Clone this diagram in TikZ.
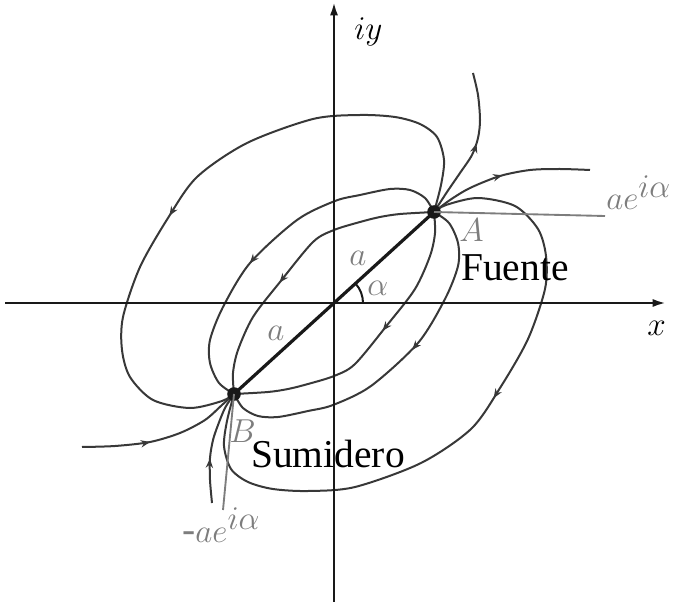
\documentclass[tikz,border=0pt]{standalone}
\usepackage{fontspec}
\setmainfont{Liberation Serif}
\usetikzlibrary{arrows.meta,decorations.markings,calc}
\definecolor{curvec}{HTML}{383838}
\definecolor{lblgray}{HTML}{7D7D7D}
\DeclareMathSizes{29.6}{31}{25.5}{19}
\begin{document}
\begin{tikzpicture}[x=0.75pt,y=-0.75pt,
  flow/.style={line width=1.5pt, draw=curvec, line join=round},
  fwd/.style={postaction={decorate}, decoration={markings, mark=at position #1 with {\arrow{Stealth[length=7pt,width=5.5pt]}}}},
  bwd/.style={postaction={decorate}, decoration={markings, mark=at position #1 with {\arrow{Stealth[length=7pt,width=5.5pt,reversed]}}}},
  axis/.style={line width=1.8pt, draw=black!90, -{Latex[length=10pt,width=6pt]}},
  lead/.style={line width=1.4pt, draw=lblgray},
  dot/.style={circle, fill=black!90, minimum size=10.2pt, inner sep=0pt},
  lbl/.style={font=\fontsize{29.6}{34}\selectfont, inner sep=0pt, anchor=base west},
  glbl/.style={lbl, text=lblgray}
]
\useasboundingbox (0,0) rectangle (681,602);
\coordinate (O) at (334,303);
\coordinate (xl) at (5,303);
\coordinate (xr) at (666,303);
\coordinate (yb) at (334,602);
\coordinate (yt) at (334,2);
\coordinate (aL) at (605,216);
\coordinate (bL) at (223,510);

% left loops (source A -> sink B)
\draw[flow, fwd=0.57] plot[smooth] coordinates {(434,212) (441,185) (444,160) (437,137) (420,124) (395,117) (360,115) (313,119) (247,143) (197,177) (168,218) (140,267) (123,317) (122,350) (130,377) (153,400) (190,408) (222,401) (234,394)};
\draw[flow, fwd=0.59] plot[smooth] coordinates {(434,212) (425,198) (410,190) (390,189) (360,195) (335,201) (297,220) (250,263) (223,307) (210,340) (210,363) (219,383) (234,394)};
\draw[flow, fwd=0.59] plot[smooth] coordinates {(434,212) (400,214) (380,217) (360,222) (334,230) (313,242) (280,282) (253,317) (238,350) (233,373) (234,394)};
% right loops (point reflection through O)
\begin{scope}[rotate around={180:(O)}]
\draw[flow, bwd=0.57] plot[smooth] coordinates {(434,212) (441,185) (444,160) (437,137) (420,124) (395,117) (360,115) (313,119) (247,143) (197,177) (168,218) (140,267) (123,317) (122,350) (130,377) (153,400) (190,408) (222,401) (234,394)};
\draw[flow, bwd=0.59] plot[smooth] coordinates {(434,212) (425,198) (410,190) (390,189) (360,195) (335,201) (297,220) (250,263) (223,307) (210,340) (210,363) (219,383) (234,394)};
\draw[flow, bwd=0.59] plot[smooth] coordinates {(434,212) (400,214) (380,217) (360,222) (334,230) (313,242) (280,282) (253,317) (238,350) (233,373) (234,394)};
\end{scope}
% open streamlines
\draw[flow, fwd=0.53] plot[smooth] coordinates {(434,212) (447,192) (460,173) (472,155) (478,138) (480,120) (478,95) (473,73)};
\draw[flow, fwd=0.47] plot[smooth] coordinates {(434,212) (450,200) (470,188) (500,176) (530,170) (560,169) (590,170)};
\draw[flow, fwd=0.39] plot[smooth] coordinates {(212,503) (210,480) (210,458) (213,440) (218,425) (225,408) (234,394)};
\draw[flow, fwd=0.41] plot[smooth] coordinates {(82,447) (115,446) (150,442) (180,433) (205,420) (222,405) (234,394)};

% axes
\draw[axis] (xl) -- (xr);
\draw[axis] (yb) -- (yt);

% points and segment
\node[dot] (A) at (434,212) {};
\node[dot] (B) at (234,394) {};
\draw[line width=2.4pt, black!90] (O) -- (A.center);
\draw[line width=2.4pt, black!90] (O) -- (B.center);
\draw[flow, draw=black!90] ($(O)+(29,0)$) arc[start angle=0, end angle=-42, radius=29];

% leaders
\draw[lead] (A.center) -- (aL);
\draw[lead] (B.center) -- (bL);

% labels
\node[lbl] (liy) at (354,40) {$iy$};
\node[lbl] (lx) at (647,335) {$x$};
\node[glbl] (lA) at (459,242) {$A$};
\node[lbl] (lF) at (461,280) {Fuente};
\node[glbl] (lae) at (606,210) {$ae^{i\alpha}$};
\node[glbl] (lB) at (229,442) {$B$};
\node[lbl] (lS) at (251,467) {Sumidero};
\node[glbl] (lmae) at (182,542) {-$ae^{i\alpha}$};
\node[glbl] (la1) at (349,265) {$a$};
\node[glbl] (lal) at (367,295) {$\alpha$};
\node[glbl] (la2) at (267,340) {$a$};
\end{tikzpicture}
\end{document}
